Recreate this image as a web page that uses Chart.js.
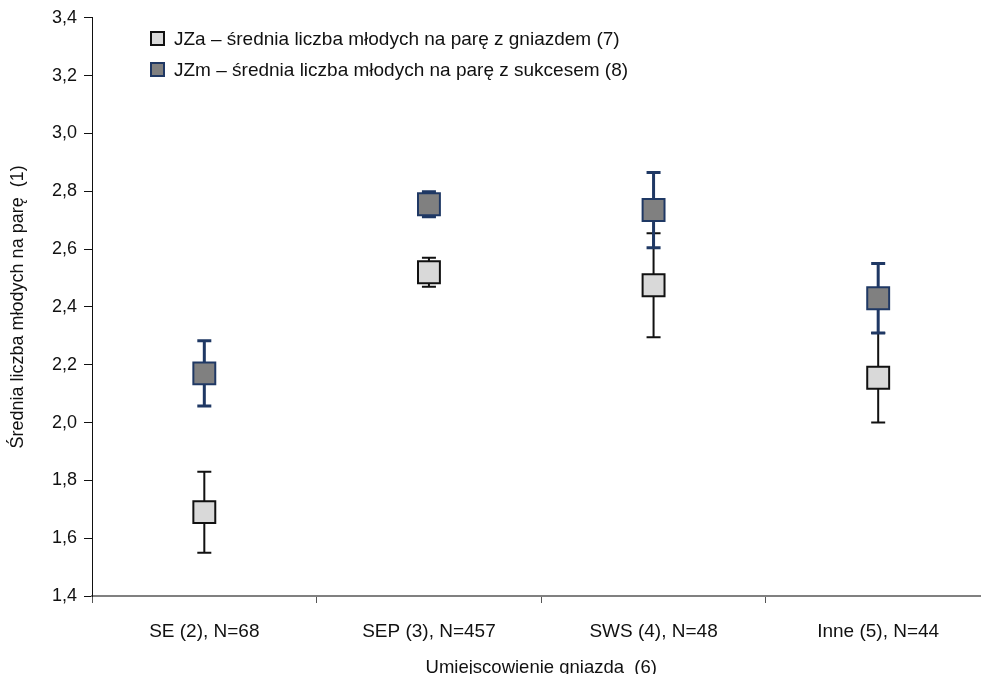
<!DOCTYPE html>
<html>
<head>
<meta charset="utf-8">
<script src="https://cdn.jsdelivr.net/npm/chart.js@4"></script>
<style>
  body { margin: 0; overflow: hidden; background: #fff; font-family: "Liberation Sans", Arial, sans-serif; }
  #wrap { position: relative; width: 1008px; height: 674px; }
  #legend { position: absolute; left: 150px; top: 23px; font-size: 19px; color: #111; }
  .item { display: flex; align-items: center; height: 31px; }
  .box { width: 11px; height: 11px; margin-right: 9px; }
</style>
</head>
<body>
<div id="wrap">
  <canvas id="chart" width="1008" height="674"></canvas>
  <div id="legend"></div>
</div>
<script>
const categories = ['SE (2), N=68', 'SEP (3), N=457', 'SWS (4), N=48', 'Inne (5), N=44'];
const seriesLabels = [
  'JZa – średnia liczba młodych na parę z gniazdem (7)',
  'JZm – średnia liczba młodych na parę z sukcesem (8)'
];
const jzaMean = [1.69, 2.52, 2.475, 2.155];
const jzaErr = [0.14, 0.05, 0.18, 0.155];
const jzmMean = [2.17, 2.755, 2.735, 2.43];
const jzmErr = [0.113, 0.043, 0.13, 0.12];
const yTicks = [1.4, 1.6, 1.8, 2.0, 2.2, 2.4, 2.6, 2.8, 3.0, 3.2, 3.4];

const fills = ['#d9d9d9', '#808080'];
const borders = ['#111111', '#1f3864'];
const errWidths = [2, 3];
const errors = [jzaErr, jzmErr];

// legend (html, real text)
const legendEl = document.getElementById('legend');
seriesLabels.forEach((label, i) => {
  const item = document.createElement('div');
  item.className = 'item';
  const box = document.createElement('div');
  box.className = 'box';
  box.style.background = fills[i];
  box.style.border = '2px solid ' + borders[i];
  const txt = document.createElement('span');
  txt.textContent = label;
  item.appendChild(box);
  item.appendChild(txt);
  legendEl.appendChild(item);
});

// error bars under the markers
const errorBars = {
  id: 'errorBars',
  beforeDatasetsDraw(chart) {
    const ctx = chart.ctx;
    const y = chart.scales.y;
    chart.data.datasets.forEach((ds, di) => {
      const meta = chart.getDatasetMeta(di);
      ctx.save();
      ctx.strokeStyle = borders[di];
      ctx.lineWidth = errWidths[di];
      meta.data.forEach((pt, i) => {
        const top = y.getPixelForValue(ds.data[i] + errors[di][i]);
        const bot = y.getPixelForValue(ds.data[i] - errors[di][i]);
        ctx.beginPath();
        ctx.moveTo(pt.x, top);
        ctx.lineTo(pt.x, bot);
        ctx.moveTo(pt.x - 7, top);
        ctx.lineTo(pt.x + 7, top);
        ctx.moveTo(pt.x - 7, bot);
        ctx.lineTo(pt.x + 7, bot);
        ctx.stroke();
      });
      ctx.restore();
    });
  }
};

Chart.defaults.font.family = '"Liberation Sans", Arial, sans-serif';
Chart.defaults.font.size = 18;
Chart.defaults.color = '#111';

new Chart(document.getElementById('chart'), {
  type: 'line',
  data: {
    labels: categories,
    datasets: [
      {
        label: seriesLabels[0],
        data: jzaMean,
        showLine: false,
        pointStyle: 'rect',
        pointRadius: 15.5,
        pointHoverRadius: 15.5,
        pointBackgroundColor: fills[0],
        pointBorderColor: borders[0],
        pointBorderWidth: 2
      },
      {
        label: seriesLabels[1],
        data: jzmMean,
        showLine: false,
        pointStyle: 'rect',
        pointRadius: 15.5,
        pointHoverRadius: 15.5,
        pointBackgroundColor: fills[1],
        pointBorderColor: borders[1],
        pointBorderWidth: 2
      }
    ]
  },
  options: {
    responsive: false,
    animation: false,
    layout: { padding: { top: 17, right: 5, left: 7, bottom: 0 } },
    plugins: {
      legend: { display: false },
      tooltip: { enabled: false }
    },
    scales: {
      x: {
        offset: true,
        grid: { offset: true, drawOnChartArea: false, tickLength: 7, color: '#555' },
        border: { color: '#808080', width: 2 },
        ticks: { padding: 17, color: '#111', maxRotation: 0, font: { size: 19 } },
        title: { display: true, text: 'Umiejscowienie gniazda  (6)', padding: { top: 4, bottom: -5 }, color: '#111', font: { size: 18.5 } },
        afterFit: s => { s.height = 78; }
      },
      y: {
        min: 1.4,
        max: 3.4,
        afterBuildTicks: s => { s.ticks = yTicks.map(v => ({ value: v })); },
        grid: { drawOnChartArea: false, tickLength: 8, color: '#111' },
        border: { color: '#111', width: 1 },
        ticks: {
          padding: 7,
          color: '#111',
          callback: v => v.toFixed(1).replace('.', ',')
        },
        title: { display: true, text: 'Średnia liczba młodych na parę  (1)', padding: 0, color: '#111' },
        afterFit: s => { s.width = 85; }
      }
    }
  },
  plugins: [errorBars]
});
</script>
</body>
</html>
